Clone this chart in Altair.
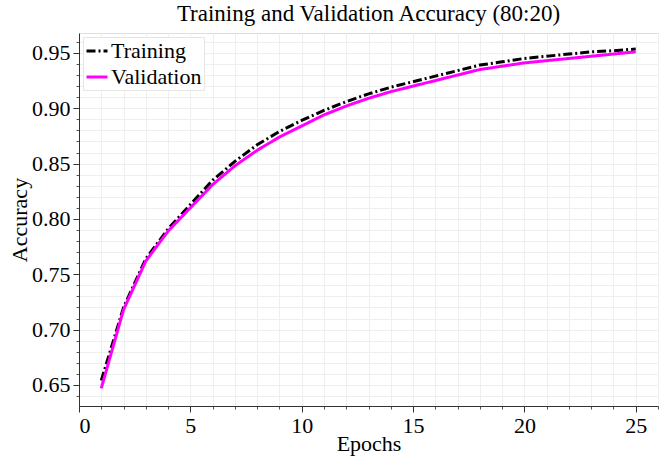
import altair as alt
import pandas as pd

# Accuracy per epoch for the 80:20 split
epochs = list(range(1, 26))
training_acc = [0.654, 0.720, 0.764, 0.791, 0.813, 0.835, 0.852, 0.867, 0.879, 0.889,
                0.898, 0.906, 0.913, 0.919, 0.924, 0.929, 0.934, 0.939, 0.942, 0.945,
                0.947, 0.949, 0.951, 0.952, 0.9535]
validation_acc = [0.647, 0.718, 0.762, 0.789, 0.810, 0.831, 0.848, 0.862, 0.874, 0.884,
                  0.894, 0.902, 0.909, 0.915, 0.920, 0.925, 0.930, 0.935, 0.938, 0.941,
                  0.943, 0.945, 0.947, 0.949, 0.951]
series_names = ["Training", "Validation"]

x_major = [0, 5, 10, 15, 20, 25]
x_minor = list(range(0, 27))
y_major = [0.65, 0.70, 0.75, 0.80, 0.85, 0.90, 0.95]
y_minor = [round(0.64 + 0.01 * i, 2) for i in range(33)]

df = pd.DataFrame({
    "Epoch": epochs * 2,
    "Accuracy": training_acc + validation_acc,
    "Series": [series_names[0]] * len(epochs) + [series_names[1]] * len(epochs),
    "order": [1] * len(epochs) + [0] * len(epochs),
})

FONT = "Liberation Serif"
x_scale = alt.Scale(domain=[0, 26], nice=False, zero=False)
y_scale = alt.Scale(domain=[0.631, 0.968], nice=False, zero=False)

# light grid with minor ticks
grid = alt.Chart(df).mark_line(opacity=0).encode(
    x=alt.X("Epoch:Q", scale=x_scale,
            axis=alt.Axis(values=x_minor, labels=False, title=None, domain=False,
                          grid=True, gridColor="#efefef", gridWidth=1,
                          ticks=True, tickSize=3, tickColor="#555555", orient="bottom")),
    y=alt.Y("Accuracy:Q", scale=y_scale,
            axis=alt.Axis(values=y_minor, labels=False, title=None, domain=False,
                          grid=True, gridColor="#efefef", gridWidth=1,
                          ticks=True, tickSize=3, tickColor="#555555", orient="left")),
)

lines = alt.Chart(df).mark_line(strokeWidth=3).encode(
    x=alt.X("Epoch:Q", scale=x_scale,
            axis=alt.Axis(values=x_major, title="Epochs", grid=False,
                          tickSize=6, tickColor="#333333", domainColor="#333333",
                          labelFont=FONT, labelFontSize=22, labelColor="#000000",
                          titleFont=FONT, titleFontSize=22, titleFontWeight="normal",
                          titleColor="#000000", labelPadding=3, titlePadding=-3,
                          orient="bottom")),
    y=alt.Y("Accuracy:Q", scale=y_scale,
            axis=alt.Axis(values=y_major, format=".2f", title="Accuracy", grid=False,
                          tickSize=6, tickColor="#333333", domainColor="#333333",
                          labelFont=FONT, labelFontSize=22, labelColor="#000000",
                          titleFont=FONT, titleFontSize=22, titleFontWeight="normal",
                          titleColor="#000000", labelPadding=3, titlePadding=0,
                          orient="left")),
    color=alt.Color("Series:N",
                    scale=alt.Scale(domain=series_names, range=["#000000", "#ff00ff"]),
                    legend=alt.Legend(title=None, orient="top-left", offset=4,
                                      labelFont=FONT, labelFontSize=22, labelColor="#000000",
                                      symbolType="stroke", symbolSize=441,
                                      symbolStrokeWidth=3, rowPadding=3,
                                      fillColor="#ffffff", strokeColor="#e6e6e6",
                                      padding=2, labelOffset=2)),
    strokeDash=alt.StrokeDash("Series:N",
                              scale=alt.Scale(domain=series_names, range=[[9, 3, 2, 3], [1, 0]]),
                              legend=None),
    order=alt.Order("order:Q"),
    detail="Series:N",
)

chart = alt.layer(grid, lines).resolve_axis(x="independent", y="independent").properties(
    width=579,
    height=373,
    autosize=alt.AutoSizeParams(type="none"),
    padding={"left": 79, "top": 33, "right": 12, "bottom": 50},
    title=alt.TitleParams("Training and Validation Accuracy (80:20)", font=FONT,
                          fontSize=23, fontWeight="normal", color="#000000", offset=7),
).configure_view(stroke="#c8c8c8", strokeWidth=1.5).configure(background="#ffffff")

chart.save("out.html", embed_options={"renderer": "svg", "actions": False})
